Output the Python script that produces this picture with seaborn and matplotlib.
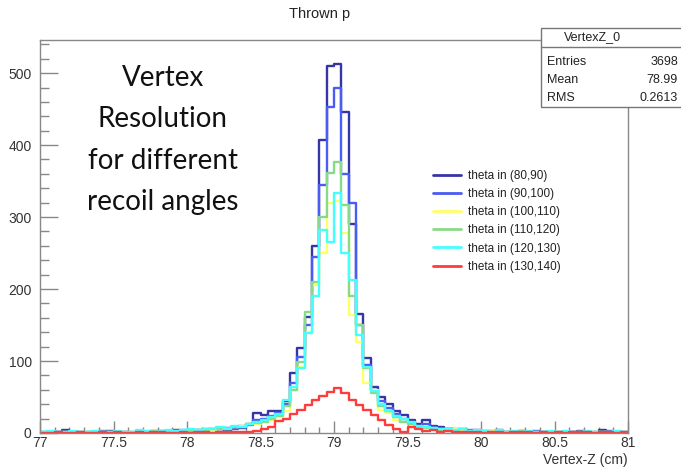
import numpy as np
import pandas as pd
import matplotlib
matplotlib.use("Agg")
import matplotlib.pyplot as plt
import seaborn as sns
from matplotlib.lines import Line2D
from matplotlib.patches import Rectangle
from matplotlib.ticker import MultipleLocator

# ---------------- data ----------------
x_lo, x_hi, n_bins = 77.0, 81.0, 80
labels = ["theta in (80,90)", "theta in (90,100)", "theta in (100,110)",
          "theta in (110,120)", "theta in (120,130)", "theta in (130,140)"]
colors = ["#3535a8", "#4a5cf2", "#ffff66", "#86dc86", "#44ffff", "#ff3b3b"]

s_80_90 = [0, 2, 1, 4, 1, 0, 2, 1, 0, 3,
           1, 2, 0, 3, 2, 1, 3, 2, 4, 3,
           2, 4, 3, 5, 6, 4, 8, 7, 12, 28,
           25, 30, 30, 45, 83, 118, 161, 260, 407, 510,
           513, 446, 290, 165, 104, 64, 50, 40, 30, 25,
           18, 12, 18, 10, 8, 6, 5, 6, 3, 4,
           2, 3, 4, 2, 1, 3, 2, 1, 2, 1,
           0, 2, 1, 3, 1, 0, 4, 1, 2, 1]
s_90_100 = [1, 0, 2, 0, 1, 2, 0, 1, 3, 0,
            2, 1, 1, 2, 0, 3, 2, 1, 3, 4,
            3, 2, 5, 4, 6, 7, 6, 10, 11, 18,
            20, 24, 28, 40, 70, 105, 150, 245, 345, 453,
            479, 360, 320, 150, 95, 60, 45, 35, 26, 20,
            14, 10, 12, 8, 6, 5, 4, 3, 4, 2,
            3, 1, 2, 2, 1, 2, 0, 3, 1, 2,
            1, 0, 2, 1, 2, 1, 0, 3, 1, 0]
s_100_110 = [0, 1, 0, 2, 1, 0, 1, 0, 2, 1,
             0, 2, 1, 1, 3, 2, 1, 3, 2, 3,
             4, 3, 5, 4, 7, 6, 8, 10, 12, 12,
             16, 18, 22, 30, 60, 92, 140, 205, 250, 320,
             322, 278, 164, 126, 70, 60, 32, 28, 18, 15,
             12, 8, 7, 6, 5, 4, 5, 3, 2, 3,
             2, 3, 1, 2, 1, 1, 2, 0, 1, 2,
             1, 2, 0, 1, 1, 2, 1, 0, 1, 1]
s_110_120 = [1, 0, 1, 1, 0, 2, 1, 0, 1, 2,
             1, 0, 2, 2, 1, 3, 1, 2, 3, 2,
             3, 4, 4, 6, 5, 7, 9, 8, 12, 14,
             15, 20, 24, 38, 60, 99, 168, 210, 300, 361,
             376, 317, 190, 150, 90, 55, 38, 30, 22, 15,
             12, 9, 7, 6, 4, 5, 3, 2, 3, 2,
             3, 1, 2, 1, 2, 3, 1, 2, 1, 0,
             2, 1, 1, 2, 0, 1, 2, 1, 0, 1]
s_120_130 = [2, 3, 1, 2, 3, 1, 2, 3, 1, 2,
             3, 2, 2, 4, 3, 2, 3, 4, 3, 4,
             5, 4, 6, 5, 8, 6, 10, 9, 12, 15,
             18, 22, 26, 46, 64, 90, 139, 190, 282, 265,
             333, 250, 212, 136, 92, 58, 40, 30, 24, 20,
             15, 10, 8, 7, 6, 5, 4, 5, 3, 4,
             3, 2, 4, 2, 3, 2, 3, 2, 2, 3,
             2, 3, 2, 1, 3, 2, 2, 1, 3, 2]
s_130_140 = [0, 0, 1, 0, 0, 1, 0, 0, 1, 0,
             1, 0, 0, 1, 0, 1, 1, 0, 0, 1,
             0, 1, 1, 0, 2, 1, 1, 2, 1, 3,
             5, 9, 16, 20, 27, 32, 39, 46, 51, 57,
             63, 55, 46, 39, 32, 25, 18, 11, 6, 2,
             9, 5, 3, 4, 2, 3, 1, 2, 1, 1,
             0, 1, 1, 0, 1, 2, 1, 0, 1, 0,
             1, 0, 1, 2, 1, 0, 1, 1, 0, 1]
series = [s_80_90, s_90_100, s_100_110, s_110_120, s_120_130, s_130_140]

stat_name = "VertexZ_0"
stat_rows = [("Entries", "3698"), ("Mean", "78.99"), ("RMS", "0.2613")]

# ---------------- figure ----------------
sns.set_theme(style="white")
plt.rcParams["font.family"] = ["Liberation Sans", "DejaVu Sans"]

W, H = 681, 472
fig = plt.figure(figsize=(W / 100, H / 100), dpi=100)
ax = fig.add_axes([40 / W, 1 - 433 / H, (628 - 40) / W, (433 - 40) / H])

bin_w = (x_hi - x_lo) / n_bins
centers = x_lo + bin_w * (np.arange(n_bins) + 0.5)
frames = []
for lab, vals in zip(labels, series):
    frames.append(pd.DataFrame({"z": centers, "count": np.asarray(vals, float),
                                "series": lab}))
df = pd.concat(frames, ignore_index=True)

for lab, col in zip(labels, colors):
    sub = df[df["series"] == lab].reset_index(drop=True)
    sns.histplot(data=sub, x="z", weights="count",
                 bins=n_bins, binrange=(x_lo, x_hi), element="step",
                 fill=False, color=col, linewidth=1.7, ax=ax)

ax.set_xlim(x_lo, x_hi)
ax.set_ylim(0, 546)
ax.set_ylabel("")
ax.set_xlabel("Vertex-Z (cm)", loc="right", fontsize=10, color="#333333", labelpad=2)

ax.xaxis.set_major_locator(MultipleLocator(0.5))
ax.xaxis.set_minor_locator(MultipleLocator(0.1))
ax.yaxis.set_major_locator(MultipleLocator(100))
ax.yaxis.set_minor_locator(MultipleLocator(20))
ax.xaxis.set_major_formatter(matplotlib.ticker.FuncFormatter(lambda v, p: f"{v:g}"))

ax.tick_params(axis="both", which="both", bottom=True, left=True, top=False, right=False)
ax.tick_params(axis="x", which="major", direction="in", length=8.5, width=1,
               color="#888888", labelsize=10, labelcolor="#333333", pad=2)
ax.tick_params(axis="x", which="minor", direction="in", length=4.3, width=1,
               color="#888888")
ax.tick_params(axis="y", which="major", direction="in", length=13, width=1,
               color="#888888", labelsize=10, labelcolor="#333333", pad=6)
ax.tick_params(axis="y", which="minor", direction="in", length=6.5, width=1,
               color="#888888")
for sp in ax.spines.values():
    sp.set_color("#888888")
    sp.set_linewidth(1)

fig.text(320 / W, 1 - 14 / H, "Thrown p", ha="center", va="center",
         fontsize=10.5, color="#222222")

fig.text(163 / W, 1 - 140 / H,
         "Vertex\nResolution\nfor different\nrecoil angles",
         ha="center", va="center", fontsize=20, family=["Lato", "DejaVu Sans"],
         linespacing=1.72, color="#111111")

handles = [Line2D([0], [0], color=c, lw=2) for c in colors]
fig.legend(handles, labels, loc="upper left",
           bbox_to_anchor=(433 / W, 1 - 170 / H), frameon=False,
           fontsize=8.5, handlelength=2.4, handletextpad=0.6,
           labelspacing=0.52, borderpad=0, borderaxespad=0,
           labelcolor="#222222")

# stats box
box_l, box_t, box_b = 541, 28, 107
fig.patches.append(Rectangle((box_l / W, 1 - box_b / H), (W + 10 - box_l) / W,
                             (box_b - box_t) / H, transform=fig.transFigure,
                             facecolor="white", edgecolor="#777777", lw=1,
                             zorder=10))
fig.add_artist(Line2D([box_l / W, 1.02], [1 - 47 / H, 1 - 47 / H],
                      transform=fig.transFigure, color="#777777", lw=1, zorder=11))
fig.text(592 / W, 1 - 37.5 / H, stat_name, ha="center", va="center",
         fontsize=9, color="#222222", zorder=12)
for i, (k, v) in enumerate(stat_rows):
    yy = 1 - (62 + 18 * i) / H
    fig.text(547 / W, yy, k, ha="left", va="center", fontsize=9,
             color="#222222", zorder=12)
    fig.text(678 / W, yy, v, ha="right", va="center", fontsize=9,
             color="#222222", zorder=12)

fig.savefig("out.png", dpi=100)
